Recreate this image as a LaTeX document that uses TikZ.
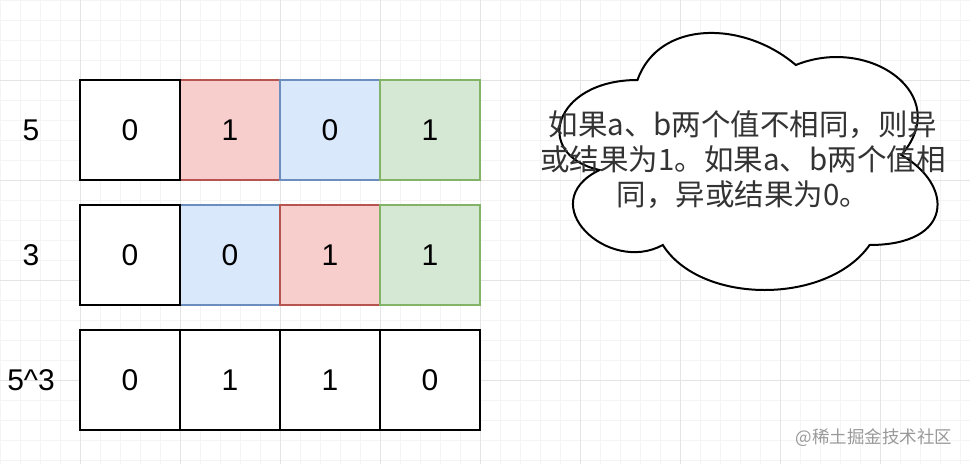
\documentclass[tikz,border=0pt]{standalone}
\usepackage{fontspec}
\setmainfont{Liberation Sans}
\newfontfamily\cjk{Noto Sans CJK SC}
\definecolor{redfill}{HTML}{F8CECC}
\definecolor{redline}{HTML}{B85450}
\definecolor{bluefill}{HTML}{DAE8FC}
\definecolor{blueline}{HTML}{6C8EBF}
\definecolor{greenfill}{HTML}{D5E8D4}
\definecolor{greenline}{HTML}{82B366}
\definecolor{gridmin}{HTML}{F4F4F4}
\definecolor{gridmaj}{HTML}{E4E4E4}
\tikzset{
  cell/.style={draw=black,fill=white,line width=2pt,minimum size=100pt,inner sep=0pt,outer sep=0pt,font=\fontsize{30}{36}\selectfont},
  redcell/.style={cell,draw=redline,fill=redfill},
  bluecell/.style={cell,draw=blueline,fill=bluefill},
  greencell/.style={cell,draw=greenline,fill=greenfill},
  rowlabel/.style={font=\fontsize{30}{36}\selectfont}
}
\begin{document}
\begin{tikzpicture}[x=1pt,y=-1pt,>=stealth]
  \useasboundingbox[fill=white] (0,0) rectangle (970,464);
  % grid behind everything
  \foreach \x in {0,20,...,960} \draw[gridmin,line width=0.6pt] (\x,0) -- (\x,464);
  \foreach \y in {0,20,...,460} \draw[gridmin,line width=0.6pt] (0,\y) -- (970,\y);
  \foreach \x in {80,180,...,880} \draw[gridmaj,line width=0.8pt] (\x,0) -- (\x,464);
  \foreach \y in {80,180,280,380} \draw[gridmaj,line width=0.8pt] (0,\y) -- (970,\y);

  % 5
  \node[rowlabel] (l5) at (31,130) {5};
  \node[redcell] (a1) at (230,130) {1};
  \node[bluecell] (a2) at (330,130) {0};
  \node[greencell] (a3) at (430,130) {1};
  \node[cell] (a0) at (130,130) {0};
  % 3
  \node[rowlabel] (l3) at (31,255) {3};
  \node[bluecell] (b1) at (230,255) {0};
  \node[redcell] (b2) at (330,255) {1};
  \node[greencell] (b3) at (430,255) {1};
  \node[cell] (b0) at (130,255) {0};
  % 5^3
  \node[rowlabel] (lx) at (31,380) {5\string^3};
  \node[cell] (c0) at (130,380) {0};
  \node[cell] (c1) at (230,380) {1};
  \node[cell] (c2) at (330,380) {1};
  \node[cell] (c3) at (430,380) {0};

  % cloud
  \draw[line width=2pt,fill=white] (637.5,80)
    .. controls (553.1,80) and (532,155) .. (599.5,170)
    .. controls (532,203) and (608,275) .. (662.8,245)
    .. controls (700.8,305) and (827.4,305) .. (869.6,245)
    .. controls (954,245) and (954,185) .. (901.3,155)
    .. controls (954,95) and (869.6,35) .. (795.8,65)
    .. controls (743,20) and (658.6,20) .. (637.5,80) -- cycle;
  \node[align=center,text=black!80,font=\cjk\fontsize{29.5}{35}\selectfont] (note) at (743,160)
    {如果a、b两个值不相同，则异\\或结果为1。如果a、b两个值相\\同，异或结果为0。};

  \node[anchor=east,text=black!40,font=\cjk\fontsize{17.5}{20}\selectfont] (wm) at (956,438) {@稀土掘金技术社区};
\end{tikzpicture}
\end{document}
